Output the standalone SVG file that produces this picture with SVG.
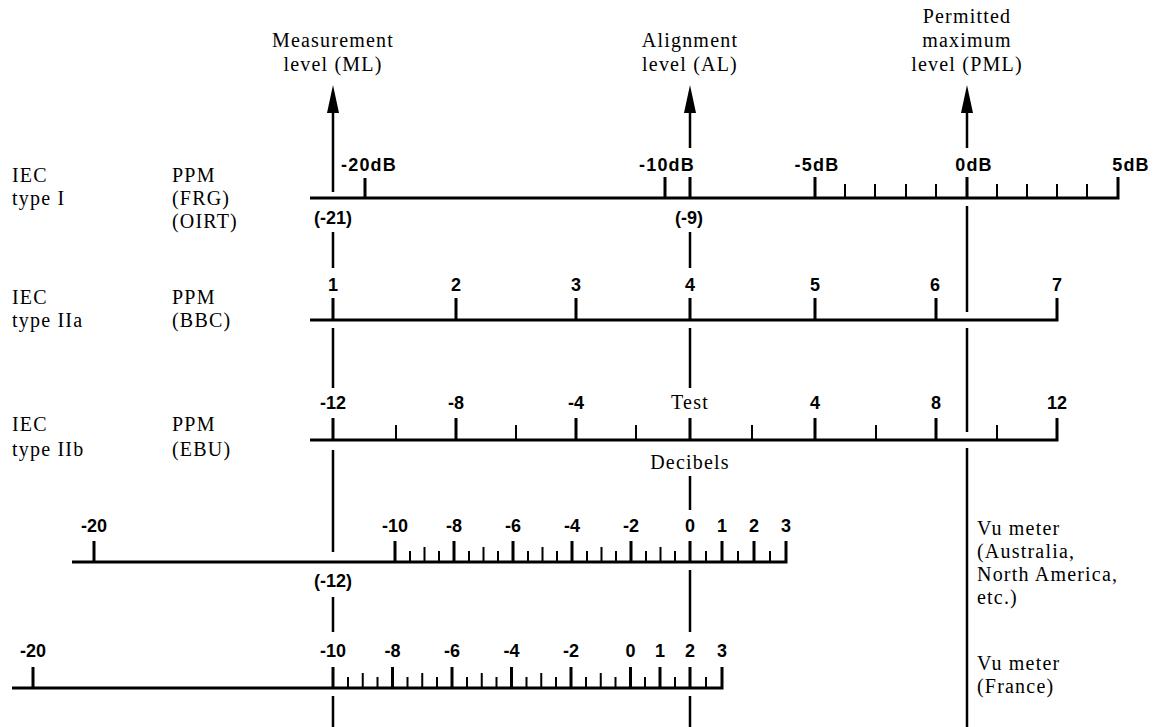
<svg xmlns="http://www.w3.org/2000/svg" width="1157" height="727" viewBox="0 0 1157 727">
<style>
.bg{fill:#fff}
.serif{font-family:"Liberation Serif","Times New Roman",serif;font-size:20px;fill:#000;letter-spacing:1.2px}
.num{font-family:"Liberation Sans",Arial,sans-serif;font-weight:bold;font-size:18px;fill:#000;text-anchor:middle}
.db{letter-spacing:1.2px}
.mid{text-anchor:middle}
.base{stroke:#000;stroke-width:3;fill:none}
.tk{stroke:#000;stroke-width:3;fill:none}
.mn{stroke:#000;stroke-width:2;fill:none}
.con{stroke:#000;stroke-width:2.5;fill:none}
.head{fill:#000}
</style>
<rect class="bg" x="0" y="0" width="1157" height="727"/>

<g id="level-labels">
<text class="serif mid" x="333" y="47">Measurement</text>
<text class="serif mid" x="333" y="71">level (ML)</text>
<text class="serif mid" x="690" y="47">Alignment</text>
<text class="serif mid" x="690" y="71">level (AL)</text>
<text class="serif mid" x="967" y="23">Permitted</text>
<text class="serif mid" x="967" y="47">maximum</text>
<text class="serif mid" x="967" y="71">level (PML)</text>
</g>

<g id="row-labels">
<text class="serif" x="12" y="182">IEC</text>
<text class="serif" x="12" y="205">type I</text>
<text class="serif" x="172" y="182">PPM</text>
<text class="serif" x="172" y="205">(FRG)</text>
<text class="serif" x="172" y="228">(OIRT)</text>
<text class="serif" x="12" y="304">IEC</text>
<text class="serif" x="12" y="327">type IIa</text>
<text class="serif" x="172" y="304">PPM</text>
<text class="serif" x="172" y="327">(BBC)</text>
<text class="serif" x="12" y="431">IEC</text>
<text class="serif" x="12" y="456">type IIb</text>
<text class="serif" x="172" y="431">PPM</text>
<text class="serif" x="172" y="456">(EBU)</text>
<text class="serif" x="977" y="535">Vu meter</text>
<text class="serif" x="977" y="558">(Australia,</text>
<text class="serif" x="977" y="581">North America,</text>
<text class="serif" x="977" y="604">etc.)</text>
<text class="serif" x="977" y="670">Vu meter</text>
<text class="serif" x="977" y="693">(France)</text>
</g>

<g id="scale-type-I">
<path class="base" d="M310 198 H1118 V177"/>
<path class="tk" d="M365 198V178 M665 198V177 M690 198V177 M815 198V177 M967 198V177"/>
<path class="mn" d="M845 198V184 M875 198V184 M906 198V184 M936 198V184 M997 198V184 M1027 198V184 M1057 198V184 M1087 198V184"/>
<text class="num db" x="369" y="171">-20dB</text>
<text class="num db" x="667" y="171">-10dB</text>
<text class="num db" x="817" y="171">-5dB</text>
<text class="num db" x="974" y="171">0dB</text>
<text class="num db" x="1131" y="171">5dB</text>
<text class="num" x="333" y="224">(-21)</text>
<text class="num" x="689" y="224">(-9)</text>
</g>

<g id="scale-type-IIa">
<path class="base" d="M310 320 H1057 V298"/>
<path class="tk" d="M333 320V298 M456 320V298 M576 320V298 M690 320V298 M815 320V298 M936 320V298"/>
<text class="num" x="333" y="291">1</text>
<text class="num" x="456" y="291">2</text>
<text class="num" x="576" y="291">3</text>
<text class="num" x="690" y="291">4</text>
<text class="num" x="815" y="291">5</text>
<text class="num" x="935" y="291">6</text>
<text class="num" x="1057" y="291">7</text>
</g>

<g id="scale-type-IIb">
<path class="base" d="M310 440 H1057 V418"/>
<path class="tk" d="M333 440V418 M456 440V418 M576 440V418 M690 440V418 M815 440V418 M936 440V418"/>
<path class="mn" d="M396 440V425 M516 440V425 M636 440V425 M752 440V425 M876 440V425 M997 440V425"/>
<text class="num" x="333" y="409">-12</text>
<text class="num" x="456" y="409">-8</text>
<text class="num" x="576" y="409">-4</text>
<text class="serif mid" x="690" y="409">Test</text>
<text class="num" x="815" y="409">4</text>
<text class="num" x="936" y="409">8</text>
<text class="num" x="1057" y="409">12</text>
<text class="serif mid" x="690" y="469">Decibels</text>
</g>

<g id="scale-vu-australia">
<path class="base" d="M72 562 H786 V541"/>
<path class="tk" d="M94 562V541 M395 562V541 M454 562V541 M513 562V541 M572 562V541 M631 562V541 M690 562V541 M722 562V541 M754 562V541"/>
<path class="mn" d="M424.5 562V547 M483.5 562V547 M542.5 562V547 M601.5 562V547 M660.5 562V547"/>
<path class="mn" d="M410 562V551 M439 562V551 M469 562V551 M498 562V551 M528 562V551 M557 562V551 M587 562V551 M616 562V551 M646 562V551 M675 562V551 M706 562V551 M738 562V551 M770 562V551"/>
<text class="num" x="94" y="532">-20</text>
<text class="num" x="395" y="532">-10</text>
<text class="num" x="454" y="532">-8</text>
<text class="num" x="513" y="532">-6</text>
<text class="num" x="572" y="532">-4</text>
<text class="num" x="631" y="532">-2</text>
<text class="num" x="690" y="532">0</text>
<text class="num" x="722" y="532">1</text>
<text class="num" x="754" y="532">2</text>
<text class="num" x="786" y="532">3</text>
<text class="num" x="333" y="587">(-12)</text>
</g>

<g id="scale-vu-france">
<path class="base" d="M12 688 H722 V667"/>
<path class="tk" d="M33 688V667 M333 688V667 M392.5 688V667 M452 688V667 M511.5 688V667 M571 688V667 M630.5 688V667 M660 688V667 M690 688V667"/>
<path class="mn" d="M362.75 688V673 M422.25 688V673 M481.75 688V673 M541.25 688V673 M600.75 688V673"/>
<path class="mn" d="M348 688V677 M377.5 688V677 M407.5 688V677 M437 688V677 M467 688V677 M496.5 688V677 M526.5 688V677 M556 688V677 M586 688V677 M615.5 688V677 M645 688V677 M675 688V677 M706 688V677"/>
<text class="num" x="33" y="657">-20</text>
<text class="num" x="333" y="657">-10</text>
<text class="num" x="392.5" y="657">-8</text>
<text class="num" x="452" y="657">-6</text>
<text class="num" x="511.5" y="657">-4</text>
<text class="num" x="571" y="657">-2</text>
<text class="num" x="630.5" y="657">0</text>
<text class="num" x="660" y="657">1</text>
<text class="num" x="690" y="657">2</text>
<text class="num" x="722" y="657">3</text>
</g>

<g id="connectors">
<polygon class="head" points="333,85 327,113 339,113"/>
<polygon class="head" points="690,85 684,113 696,113"/>
<polygon class="head" points="967,85 961,113 973,113"/>
<path class="con" d="M333 110V192 M333 232V268 M333 328V388 M333 450V552 M333 597V632 M333 696V727"/>
<path class="con" d="M690 110V148 M690 232V268 M690 328V388 M690 476V510 M690 570V632 M690 696V727"/>
<path class="con" d="M967 110V148 M967 206V312 M967 328V432 M967 448V727"/>
</g>
</svg>
